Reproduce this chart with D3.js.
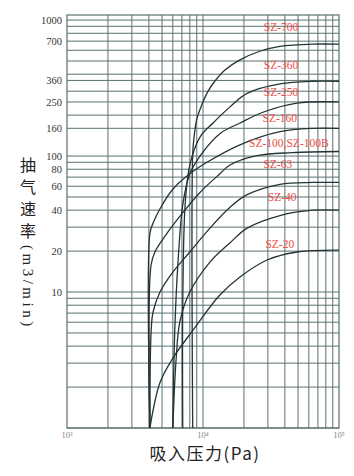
<!DOCTYPE html>
<html>
<head>
<meta charset="utf-8">
<script src="https://cdn.jsdelivr.net/npm/d3@7"></script>
<style>
  body { margin: 0; background: #fff; }
  svg { display: block; }
</style>
</head>
<body>
<div id="chart"></div>
<script>
// tick labels and grid values
var yTickLabels = [1000, 700, 360, 250, 160, 100, 80, 60, 40, 20, 10];
var yGridValues = [1, 2, 3, 4, 5, 6, 7, 8, 9, 10, 20, 30, 40, 50, 60, 70, 80, 90, 100,
                   160, 200, 250, 300, 360, 400, 500, 600, 700, 800, 900, 1000];
var xTickLabels = [1000, 10000, 100000];
var xTickText = ["10\u00b3", "10\u2074", "10\u2075"];
var xGridValues = [2000, 3000, 4000, 5000, 6000, 7000, 8000, 9000, 10000,
                   20000, 30000, 40000, 50000, 60000, 70000, 80000, 90000];

// curves: suction pressure (Pa) -> pumping speed (m3/min)
var names = ["SZ-700", "SZ-360", "SZ-250", "SZ-160", "SZ-100", "SZ-63", "SZ-40", "SZ-20"];

var p700 = [8400, 8400, 8600, 9000, 9800, 10900, 12200, 14500, 18700, 26200, 36800, 64400, 100000];
var s700 = [1, 104, 138, 187, 238, 300, 355, 430, 510, 590, 640, 665, 665];

var p360 = [7100, 7100, 7400, 8000, 9500, 11850, 15800, 21100, 36800, 64400, 100000];
var s360 = [1, 8.4, 45, 86, 138, 175, 230, 289, 339, 355, 355];

var p250 = [6000, 6200, 6550, 7130, 8000, 9500, 13300, 18700, 27600, 49100, 100000];
var s250 = [1, 5.2, 16.6, 45, 74, 100, 146, 175, 210, 245, 250];

var p160 = [4070, 4070, 4290, 4830, 6000, 8000, 10700, 18700, 36800, 64400, 100000];
var s160 = [1, 27, 32, 41, 57, 74, 90, 121, 151, 160, 160];

var p100 = [4070, 4150, 4430, 5430, 7130, 9500, 13300, 15800, 24000, 45000, 100000];
var s100 = [1, 15.8, 19.7, 27, 38.5, 54, 74, 86, 100, 106, 108];

var p63 = [4070, 4150, 4290, 4830, 6000, 8000, 11250, 15800, 21100, 36800, 64400, 100000];
var s63 = [1, 5, 7.1, 10, 14, 19.7, 29.5, 42, 52, 62, 64, 64];

var p40 = [6000, 6330, 6770, 8000, 11250, 15800, 21100, 36800, 64400, 100000];
var s40 = [1, 3.1, 6.1, 10, 16.6, 23, 29.5, 36.5, 40, 40];

var p20 = [4070, 4830, 6000, 8400, 13300, 18700, 29600, 49100, 100000];
var s20 = [1, 2.16, 3.26, 5.2, 9.5, 12.9, 17.2, 19.7, 20.3];

var pressures = [p700, p360, p250, p160, p100, p63, p40, p20];
var speeds = [s700, s360, s250, s160, s100, s63, s40, s20];

// label texts and where they sit (pressure, speed at baseline)
var labelText = ["SZ-700", "SZ-360", "SZ-250", "SZ-160", "SZ-100,SZ-100B", "SZ-63", "SZ-40", "SZ-20"];
var labelP = [37500, 37500, 37500, 36700, 42800, 35500, 38200, 36700];
var labelS = [830, 436, 276, 178, 116, 81.6, 46.7, 21.1];

var width = 354, height = 476;
var gridColor = "#5a7070";
var curveColor = "#243434";

var svg = d3.select("#chart")
    .append("svg")
    .attr("width", width)
    .attr("height", height);

svg.append("rect").attr("width", width).attr("height", height).attr("fill", "#fff");

var x = d3.scaleLog().domain([1000, 100000]).range([67, 339]);
var y = d3.scaleLog().domain([1, 1090]).range([428, 15]);

// horizontal grid
svg.append("g")
    .selectAll("line")
    .data(yGridValues)
    .enter()
    .append("line")
    .attr("x1", x(1000))
    .attr("x2", x(100000))
    .attr("y1", function (d) { return y(d); })
    .attr("y2", function (d) { return y(d); })
    .attr("stroke", gridColor)
    .attr("stroke-width", 1);

// vertical grid
svg.append("g")
    .selectAll("line")
    .data(xGridValues)
    .enter()
    .append("line")
    .attr("x1", function (d) { return x(d); })
    .attr("x2", function (d) { return x(d); })
    .attr("y1", y(1))
    .attr("y2", y(1090))
    .attr("stroke", gridColor)
    .attr("stroke-width", 1);

// frame
svg.append("rect")
    .attr("x", x(1000))
    .attr("y", y(1090))
    .attr("width", x(100000) - x(1000))
    .attr("height", y(1) - y(1090))
    .attr("fill", "none")
    .attr("stroke", gridColor)
    .attr("stroke-width", 1.2);

// y tick labels
svg.append("g")
    .selectAll("text")
    .data(yTickLabels)
    .enter()
    .append("text")
    .attr("x", 62)
    .attr("y", function (d) { return y(d); })
    .attr("dy", "0.35em")
    .attr("text-anchor", "end")
    .style("font-family", "'Liberation Serif', 'DejaVu Serif', serif")
    .style("font-size", "10.5px")
    .style("fill", "#333")
    .text(function (d) { return d; });

// x tick labels
svg.append("g")
    .selectAll("text")
    .data(xTickLabels)
    .enter()
    .append("text")
    .attr("x", function (d) { return x(d); })
    .attr("y", 438)
    .attr("text-anchor", "middle")
    .style("font-family", "'Liberation Serif', serif")
    .style("font-size", "8.5px")
    .style("fill", "#888")
    .text(function (d, i) { return xTickText[i]; });

// curves
var line = d3.line()
    .x(function (d) { return x(d[0]); })
    .y(function (d) { return y(d[1]); })
    .curve(d3.curveCatmullRom.alpha(0.5));

svg.append("g")
    .selectAll("path")
    .data(names)
    .enter()
    .append("path")
    .attr("d", function (d, i) {
        return line(pressures[i].map(function (p, j) { return [p, speeds[i][j]]; }));
    })
    .attr("fill", "none")
    .attr("stroke", curveColor)
    .attr("stroke-width", 1.3);

// curve labels
svg.append("g")
    .selectAll("text")
    .data(labelText)
    .enter()
    .append("text")
    .attr("x", function (d, i) { return x(labelP[i]); })
    .attr("y", function (d, i) { return y(labelS[i]); })
    .attr("text-anchor", "middle")
    .style("font-family", "'Liberation Serif', serif")
    .style("font-size", "11.5px")
    .style("fill", "#ef4b45")
    .text(function (d) { return d; });

// y axis title: chinese upright, latin turned
var titleChars = ["抽", "气", "速", "率"];
svg.append("g")
    .selectAll("text")
    .data(titleChars)
    .enter()
    .append("text")
    .attr("x", 28)
    .attr("y", function (d, i) { return 171 + i * 22; })
    .attr("text-anchor", "middle")
    .style("font-family", "'Noto Sans CJK SC', sans-serif")
    .style("font-size", "16px")
    .style("fill", "#222")
    .text(function (d) { return d; });

svg.append("text")
    .attr("transform", "translate(23,245) rotate(90)")
    .attr("text-anchor", "start")
    .style("font-family", "'Liberation Serif', serif")
    .style("font-size", "15px")
    .style("letter-spacing", "3.5px")
    .style("fill", "#222")
    .text("(m3/min)");

// x axis title
svg.append("text")
    .attr("x", 205)
    .attr("y", 460)
    .attr("text-anchor", "middle")
    .style("font-family", "'Noto Sans CJK SC', sans-serif")
    .style("font-size", "17px")
    .style("letter-spacing", "1.5px")
    .style("fill", "#222")
    .text("吸入压力(Pa)");
</script>
</body>
</html>
